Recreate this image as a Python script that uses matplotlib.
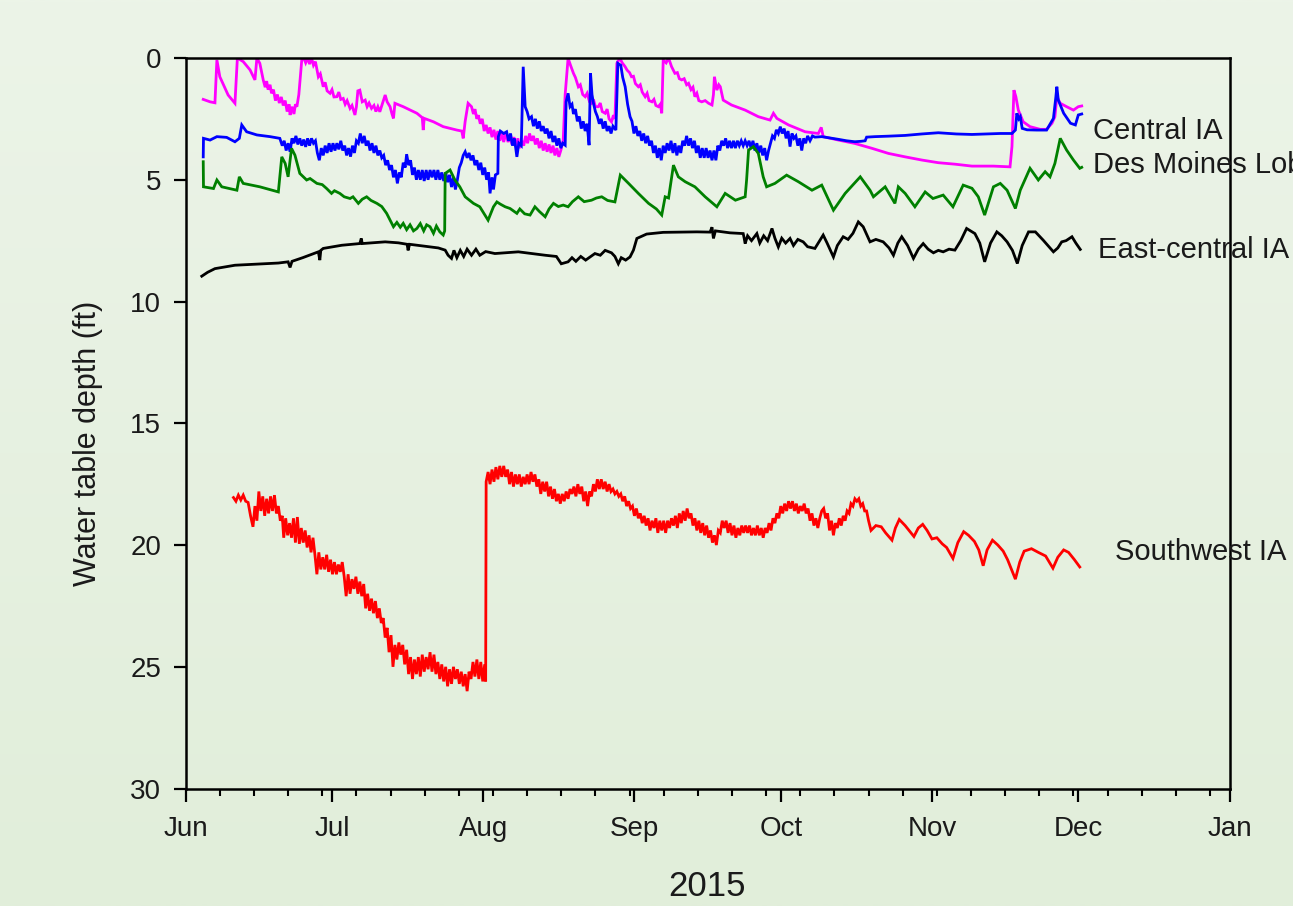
import datetime as dt
import numpy as np
import matplotlib
matplotlib.use("Agg")
import matplotlib.pyplot as plt
import matplotlib.dates as mdates

plt.rcParams['font.family'] = ['Liberation Sans', 'DejaVu Sans']

# Days after 1 June 2015 and water table depth (ft) for each site
START = dt.datetime(2015, 6, 1)

MAGENTA = [
    (3.6, 1.70), (5.0, 1.80), (6.0, 1.84), (6.4, 0.08), (7.0, 0.77), (8.7, 1.52), (10.1, 1.86),
    (10.6, 0.0), (11.8, 0.15), (13.2, 0.49), (14.2, 0.90), (14.6, 0.0), (15.2, 0.22), (15.9, 0.90),
    (16.3, 1.2), (16.6, 0.95), (16.9, 1.3), (17.3, 1.1), (17.6, 1.45), (18.0, 1.3), (18.4, 1.75),
    (18.8, 1.5), (19.2, 1.85), (19.6, 1.6), (20.0, 1.95), (20.4, 1.75), (20.8, 2.2), (21.2, 1.9),
    (21.4, 2.34), (21.8, 2.0), (22.2, 2.3), (22.5, 1.9), (22.8, 2.0), (23.2, 1.5), (23.8, 0.08),
    (24.2, 0.0), (24.6, 0.2), (25.0, 0.0), (25.4, 0.25), (25.8, 0.0), (26.2, 0.3), (26.6, 0.15),
    (27.2, 0.77), (27.6, 0.65), (28.2, 1.18), (28.6, 1.0), (29.0, 1.35), (29.6, 1.45), (30.0, 1.3),
    (30.4, 1.6), (31.0, 1.59), (31.4, 1.4), (31.8, 1.7), (32.3, 1.66), (32.7, 1.9), (33.1, 1.75),
    (33.7, 2.07), (34.1, 1.95), (34.7, 2.34), (35.0, 2.0), (35.3, 1.35), (35.7, 1.32), (36.2, 1.8),
    (36.8, 1.73), (37.2, 2.0), (37.6, 1.85), (38.1, 2.07), (38.6, 1.95), (39.0, 2.2), (39.4, 2.0),
    (39.8, 2.21), (40.3, 1.9), (40.9, 1.52), (41.3, 1.8), (41.9, 2.0), (42.3, 2.3), (42.6, 2.48),
    (42.9, 1.86), (44.6, 2.0), (47.4, 2.27), (48.5, 2.45), (48.7, 2.96), (48.9, 2.48), (50.8, 2.62),
    (52.8, 2.82), (55.6, 2.96), (56.6, 3.0), (56.9, 3.30), (57.3, 2.6), (57.9, 1.86), (58.6, 2.0),
    (59.0, 2.3), (59.3, 2.1), (59.7, 2.5), (60.0, 2.35), (60.4, 2.7), (60.8, 2.5), (61.2, 3.0),
    (61.6, 2.75), (62.0, 3.1), (62.4, 2.85), (62.8, 3.25), (63.2, 2.95), (63.6, 3.35), (64.0, 3.0),
    (64.4, 3.4), (64.8, 3.1), (65.2, 3.45), (65.6, 3.1), (66.1, 3.45), (66.5, 3.2), (66.9, 3.55),
    (67.3, 3.25), (67.7, 3.65), (68.1, 3.3), (68.5, 3.7), (68.9, 3.4), (69.3, 3.6), (69.7, 3.2),
    (70.1, 3.5), (70.5, 3.1), (70.9, 3.4), (71.3, 3.2), (71.7, 3.55), (72.1, 3.3), (72.5, 3.7),
    (72.9, 3.4), (73.3, 3.8), (73.7, 3.5), (74.1, 3.85), (74.5, 3.55), (74.9, 3.9), (75.3, 3.6),
    (75.7, 4.0), (76.1, 3.7), (76.5, 4.06), (76.9, 3.8), (77.4, 3.37), (77.8, 1.5), (78.4, 0.01),
    (78.9, 0.3), (79.5, 0.63), (79.9, 0.8), (80.5, 1.18), (80.9, 1.1), (81.4, 1.5), (81.9, 1.59),
    (82.3, 1.45), (82.8, 1.8), (83.2, 1.86), (83.6, 1.7), (84.0, 2.0), (84.6, 2.0), (85.0, 1.85),
    (85.4, 2.2), (86.0, 2.27), (86.4, 2.1), (86.8, 2.5), (87.3, 2.62), (87.7, 2.35), (88.0, 2.5),
    (88.4, 0.22), (89.0, 0.0), (89.5, 0.2), (90.1, 0.36), (90.5, 0.5), (91.0, 0.6), (91.4, 0.77),
    (91.8, 0.75), (92.2, 1.05), (92.8, 1.18), (93.2, 1.1), (93.6, 1.4), (94.2, 1.59), (94.6, 1.45),
    (95.0, 1.75), (95.6, 1.80), (96.0, 1.7), (96.4, 1.95), (96.9, 2.0), (97.3, 1.9), (97.6, 2.27),
    (97.9, 0.08), (98.5, 0.2), (99.0, 0.0), (99.6, 0.35), (100.3, 0.63), (100.8, 0.6), (101.2, 0.85),
    (101.7, 0.90), (102.2, 0.85), (102.7, 1.1), (103.1, 1.04), (103.6, 1.3), (104.0, 1.2),
    (104.4, 1.59), (104.8, 1.45), (105.2, 1.75), (105.8, 1.80), (106.5, 1.75), (107.2, 1.86),
    (107.9, 1.93), (108.2, 1.5), (108.4, 0.77), (108.9, 1.32), (109.3, 1.1), (109.6, 1.18),
    (110.2, 1.73), (111.9, 1.93), (114.7, 2.14), (117.4, 2.41), (119.8, 2.55), (120.5, 2.27),
    (121.2, 2.48), (123.6, 2.75), (127.0, 3.03), (129.7, 3.10), (130.3, 2.85), (130.7, 3.23),
    (133.8, 3.37), (137.2, 3.51), (140.7, 3.71), (144.1, 3.92), (147.5, 4.06), (150.9, 4.19),
    (154.3, 4.30), (157.7, 4.36), (161.2, 4.44), (165.6, 4.44), (169.0, 4.47), (169.4, 3.64),
    (169.8, 1.32), (170.2, 1.59), (170.7, 2.14), (171.7, 2.62), (173.1, 2.82), (175.2, 2.93),
    (176.5, 2.93), (177.6, 2.68), (178.2, 2.41), (178.6, 1.59), (179.3, 1.86), (180.6, 2.0),
    (182.0, 2.14), (183.0, 2.0), (183.7, 1.97),
]

BLUE = [
    (3.6, 4.06), (3.65, 3.30), (5.0, 3.37), (6.4, 3.23), (8.4, 3.26), (10.1, 3.44), (11.0, 3.3),
    (11.5, 2.75), (12.5, 3.03), (14.6, 3.16), (17.3, 3.23), (19.3, 3.30), (19.8, 3.6), (20.2, 3.4),
    (20.6, 3.8), (21.0, 3.5), (21.4, 3.85), (21.8, 3.3), (22.2, 3.5), (22.6, 3.2), (23.0, 3.55),
    (23.4, 3.3), (23.8, 3.6), (24.2, 3.35), (24.6, 3.65), (25.0, 3.3), (25.4, 3.6), (25.8, 3.3),
    (26.2, 3.5), (26.6, 3.4), (27.0, 3.9), (27.4, 4.2), (27.8, 3.7), (28.2, 4.0), (28.6, 3.6),
    (29.0, 3.9), (29.4, 3.5), (29.8, 3.85), (30.2, 3.5), (30.6, 3.8), (31.0, 3.5), (31.4, 3.75),
    (31.8, 3.4), (32.2, 3.8), (32.6, 3.6), (33.0, 4.0), (33.4, 3.7), (33.8, 4.05), (34.2, 3.6),
    (34.6, 3.9), (35.0, 3.4), (35.4, 3.5), (35.8, 3.1), (36.2, 3.5), (36.6, 3.2), (37.0, 3.6),
    (37.4, 3.4), (37.8, 3.8), (38.2, 3.5), (38.6, 3.9), (39.0, 3.6), (39.4, 4.0), (39.8, 3.8),
    (40.2, 4.1), (40.6, 4.0), (41.0, 4.4), (41.4, 4.2), (41.8, 4.6), (42.2, 4.4), (42.6, 4.9),
    (43.0, 4.6), (43.4, 5.15), (43.8, 4.7), (44.2, 4.9), (44.6, 4.3), (45.0, 4.5), (45.3, 3.95),
    (45.7, 4.4), (46.1, 4.2), (46.5, 4.8), (46.9, 4.5), (47.3, 5.0), (47.7, 4.6), (48.1, 5.0),
    (48.5, 4.6), (48.9, 5.05), (49.3, 4.6), (49.7, 5.0), (50.1, 4.6), (50.5, 4.9), (50.9, 4.6),
    (51.3, 5.0), (51.7, 4.6), (52.1, 5.0), (52.5, 4.7), (52.9, 5.05), (53.3, 4.7), (53.7, 5.1),
    (54.1, 4.8), (54.5, 5.3), (54.9, 4.9), (55.3, 5.4), (55.7, 5.0), (56.1, 4.5), (56.5, 4.3),
    (56.9, 4.0), (57.3, 3.85), (57.7, 4.1), (58.1, 3.9), (58.5, 4.2), (58.9, 4.0), (59.3, 4.4),
    (59.7, 4.2), (60.1, 4.6), (60.5, 4.3), (60.9, 4.8), (61.3, 4.5), (61.7, 5.0), (62.1, 4.7),
    (62.4, 5.56), (62.8, 4.9), (63.1, 5.4), (63.5, 4.8), (64.0, 4.74), (64.1, 3.23), (64.5, 3.0),
    (65.2, 3.1), (65.8, 3.03), (66.2, 3.4), (66.6, 3.1), (67.0, 3.6), (67.4, 3.3), (67.9, 4.06),
    (68.3, 3.5), (68.8, 3.6), (69.2, 0.36), (69.6, 2.0), (70.0, 2.2), (70.4, 2.5), (70.9, 2.41),
    (71.3, 2.8), (71.7, 2.5), (72.1, 2.9), (72.5, 2.6), (72.9, 3.0), (73.3, 2.8), (73.7, 3.1),
    (74.1, 2.9), (74.5, 3.3), (74.9, 3.0), (75.3, 3.45), (75.7, 3.2), (76.1, 3.6), (76.5, 3.3),
    (76.9, 3.7), (77.3, 3.5), (77.8, 3.58), (78.0, 1.8), (78.4, 1.45), (78.8, 2.0), (79.2, 1.9),
    (79.5, 2.3), (79.9, 2.1), (80.3, 2.6), (80.7, 2.4), (81.1, 2.9), (81.5, 2.6), (81.9, 3.0),
    (82.3, 2.7), (82.7, 3.58), (83.0, 0.63), (83.3, 1.5), (83.6, 1.86), (84.0, 2.2), (84.4, 2.4),
    (84.8, 2.7), (85.2, 2.5), (85.6, 2.9), (86.0, 2.6), (86.4, 3.0), (86.8, 2.8), (87.2, 3.1),
    (87.6, 2.8), (88.2, 2.96), (88.6, 0.22), (89.2, 0.3), (89.6, 0.8), (90.1, 1.18), (90.6, 1.9),
    (91.1, 2.41), (91.5, 2.6), (91.9, 3.1), (92.3, 2.8), (92.7, 3.2), (93.1, 3.0), (93.5, 3.4),
    (93.9, 3.1), (94.3, 3.5), (94.7, 3.2), (95.1, 3.6), (95.5, 3.4), (95.9, 3.9), (96.3, 3.6),
    (96.7, 4.1), (97.1, 3.7), (97.5, 4.2), (97.9, 3.6), (98.3, 3.9), (98.7, 3.5), (99.1, 3.8),
    (99.5, 3.4), (99.9, 3.9), (100.3, 3.5), (100.7, 4.0), (101.1, 3.6), (101.5, 3.9), (101.9, 3.4),
    (102.3, 3.6), (102.7, 3.2), (103.1, 3.6), (103.5, 3.3), (103.9, 3.7), (104.3, 3.4), (104.7, 3.9),
    (105.1, 3.6), (105.5, 4.1), (105.9, 3.7), (106.3, 4.1), (106.7, 3.7), (107.1, 4.1), (107.5, 3.8),
    (107.9, 4.2), (108.3, 3.8), (108.7, 4.2), (109.1, 3.6), (109.5, 3.8), (109.9, 3.4), (110.3, 3.6),
    (110.7, 3.3), (111.1, 3.7), (111.5, 3.4), (111.9, 3.7), (112.3, 3.4), (112.7, 3.7), (113.1, 3.4),
    (113.5, 3.6), (113.9, 3.4), (114.3, 3.6), (114.7, 3.4), (115.1, 3.6), (115.5, 3.4), (115.9, 3.7),
    (116.3, 3.4), (116.7, 3.8), (117.1, 3.5), (117.5, 3.9), (117.9, 3.6), (118.3, 4.0), (118.7, 3.7),
    (119.1, 4.2), (119.5, 3.8), (119.9, 3.5), (120.3, 3.2), (120.7, 3.3), (121.1, 2.95), (121.5, 3.1),
    (121.9, 2.82), (122.3, 3.1), (122.7, 2.9), (123.1, 3.3), (123.5, 3.0), (123.9, 3.64), (124.3, 3.1),
    (124.7, 3.3), (125.1, 3.2), (125.5, 3.6), (125.9, 3.3), (126.3, 3.8), (126.7, 3.3), (127.1, 3.5),
    (127.5, 3.2), (128.0, 3.4), (128.5, 3.2), (129.0, 3.25), (130.4, 3.23), (132.0, 3.28),
    (133.8, 3.34), (135.5, 3.4), (137.2, 3.44), (138.5, 3.42), (139.3, 3.40), (139.6, 3.25),
    (141.3, 3.23), (144.1, 3.21), (147.5, 3.18), (150.9, 3.12), (154.3, 3.07), (158.0, 3.12),
    (161.2, 3.14), (164.2, 3.12), (167.0, 3.1), (169.4, 3.10), (170.1, 2.96), (170.4, 2.27),
    (170.8, 2.5), (171.1, 2.41), (171.5, 2.89), (172.5, 2.95), (174.5, 2.96), (176.5, 2.96),
    (177.9, 2.48), (178.4, 1.6), (178.6, 1.18), (178.9, 1.73), (180.0, 2.27), (181.4, 2.68),
    (182.4, 2.75), (183.0, 2.34), (183.7, 2.30),
]

GREEN = [
    (3.6, 4.26), (3.65, 5.29), (5.7, 5.36), (6.4, 5.01), (7.4, 5.29), (10.5, 5.43), (11.0, 4.88),
    (11.8, 5.15), (15.2, 5.29), (19.0, 5.50), (19.7, 4.06), (20.4, 4.33), (21.0, 4.88), (21.7, 3.71),
    (22.4, 3.99), (23.4, 4.74), (24.8, 5.01), (25.5, 4.95), (26.9, 5.15), (28.0, 5.2), (28.9, 5.36),
    (29.9, 5.56), (30.5, 5.45), (31.6, 5.56), (32.5, 5.7), (33.7, 5.77), (34.3, 5.7), (35.4, 5.97),
    (36.2, 5.8), (37.1, 5.70), (38.0, 5.85), (39.2, 5.97), (40.2, 6.1), (41.2, 6.38), (42.0, 6.7),
    (42.6, 6.93), (43.3, 6.75), (44.0, 6.95), (44.6, 6.79), (45.3, 7.05), (46.0, 6.85), (46.7, 7.1),
    (47.4, 7.00), (48.1, 6.8), (48.8, 7.1), (49.4, 6.85), (50.1, 6.93), (50.8, 7.2), (51.4, 6.9),
    (52.1, 7.14), (52.8, 7.27), (53.1, 7.1), (53.2, 4.74), (54.2, 4.60), (55.2, 5.01), (56.2, 5.29),
    (57.3, 5.70), (59.0, 5.97), (60.3, 6.11), (62.0, 6.66), (63.1, 6.11), (63.8, 5.91), (64.5, 6.0),
    (65.5, 6.11), (66.5, 6.18), (67.9, 6.38), (68.5, 6.2), (69.5, 6.4), (70.6, 6.45), (71.6, 6.11),
    (72.5, 6.3), (73.7, 6.52), (74.5, 6.2), (75.4, 5.97), (76.4, 6.1), (77.4, 6.04), (78.4, 6.11),
    (79.3, 5.9), (80.5, 5.70), (81.7, 5.9), (83.2, 5.84), (84.2, 5.75), (85.3, 5.70), (86.5, 5.85),
    (88.0, 5.91), (89.1, 4.81), (90.8, 5.15), (92.8, 5.56), (94.9, 5.97), (96.5, 6.2), (97.6, 6.45),
    (98.3, 5.70), (99.0, 5.75), (100.0, 4.40), (101.0, 4.88), (102.4, 5.08), (104.4, 5.29),
    (106.5, 5.70), (108.9, 6.11), (110.6, 5.56), (112.7, 5.84), (114.7, 5.70), (115.0, 5.0),
    (115.4, 3.78), (116.4, 3.64), (117.4, 3.92), (118.4, 4.88), (119.1, 5.29), (120.8, 5.15),
    (123.2, 4.81), (125.6, 5.08), (128.4, 5.43), (130.4, 5.22), (132.8, 6.25), (135.2, 5.56),
    (138.3, 4.88), (140.3, 5.43), (141.0, 5.70), (143.4, 5.29), (145.4, 5.97), (146.1, 5.29),
    (147.5, 5.56), (149.5, 6.11), (151.6, 5.50), (153.2, 5.77), (155.3, 5.63), (157.3, 6.11),
    (159.4, 5.22), (161.2, 5.35), (162.5, 5.7), (163.8, 6.45), (165.6, 5.29), (167.0, 5.15),
    (168.4, 5.43), (170.1, 6.18), (171.1, 5.43), (173.1, 4.53), (174.8, 5.01), (176.2, 4.67),
    (177.2, 4.88), (178.2, 4.33), (179.3, 3.30), (180.6, 3.78), (182.0, 4.19), (183.3, 4.53),
    (183.7, 4.49),
]

BLACK = [
    (3.3, 8.96), (4.5, 8.8), (6.0, 8.65), (8.0, 8.58), (10.1, 8.51), (13.0, 8.48), (16.9, 8.44),
    (19.0, 8.42), (21.0, 8.37), (21.4, 8.6), (21.8, 8.35), (24.0, 8.2), (27.2, 7.96), (27.5, 8.30),
    (27.7, 7.9), (28.2, 7.82), (32.0, 7.69), (35.7, 7.62), (36.0, 7.41), (36.2, 7.62), (40.9, 7.55),
    (43.6, 7.59), (45.4, 7.65), (45.6, 7.9), (45.9, 7.65), (51.8, 7.80), (53.2, 7.89), (53.8, 8.1),
    (54.5, 8.23), (55.0, 7.9), (55.6, 8.2), (56.3, 7.9), (57.0, 8.15), (57.7, 7.85), (58.6, 8.1),
    (59.5, 7.85), (60.3, 8.1), (61.5, 7.95), (63.4, 8.03), (68.2, 7.96), (73.7, 8.10), (76.0, 8.15),
    (77.0, 8.45), (78.4, 8.37), (79.2, 8.2), (80.0, 8.35), (81.0, 8.15), (82.0, 8.3), (83.9, 8.03),
    (85.0, 8.1), (86.0, 7.9), (87.3, 8.0), (88.0, 8.15), (88.7, 8.45), (89.3, 8.2), (90.2, 8.3),
    (91.1, 8.17), (91.8, 7.89), (92.5, 7.41), (94.5, 7.23), (97.9, 7.16), (101.0, 7.15),
    (104.8, 7.14), (107.5, 7.15), (107.9, 6.95), (108.2, 7.41), (108.6, 7.1), (111.6, 7.18),
    (114.3, 7.21), (114.5, 7.4), (114.7, 7.62), (115.2, 7.3), (116.0, 7.5), (117.1, 7.21),
    (117.7, 7.6), (118.5, 7.3), (119.3, 7.5), (120.2, 7.00), (120.8, 7.4), (121.5, 7.76),
    (122.2, 7.4), (123.0, 7.6), (123.9, 7.41), (124.6, 7.7), (125.5, 7.45), (126.6, 7.55),
    (127.5, 7.75), (129.0, 7.82), (130.7, 7.27), (131.5, 7.6), (132.8, 8.17), (133.6, 7.7),
    (134.8, 7.34), (135.8, 7.45), (136.8, 7.2), (137.9, 6.73), (138.9, 6.93), (139.5, 7.2),
    (140.3, 7.55), (141.5, 7.45), (143.0, 7.55), (144.2, 7.8), (145.1, 8.10), (146.0, 7.6),
    (146.8, 7.34), (148.0, 7.7), (149.2, 8.23), (150.2, 7.85), (151.2, 7.62), (152.2, 7.85),
    (153.3, 8.00), (154.3, 7.9), (155.3, 7.96), (156.5, 7.85), (157.7, 7.89), (158.9, 7.5),
    (160.1, 7.00), (161.8, 7.21), (162.8, 7.6), (163.8, 8.37), (165.0, 7.6), (166.3, 7.14),
    (167.3, 7.3), (168.4, 7.55), (169.5, 7.9), (170.5, 8.44), (171.5, 7.7), (172.8, 7.14),
    (174.2, 7.14), (175.8, 7.48), (177.9, 7.96), (178.8, 7.8), (179.6, 7.55), (180.5, 7.5),
    (181.7, 7.34), (182.5, 7.6), (183.4, 7.86),
]

RED = [
    (9.8, 18.05), (10.3, 18.2), (10.8, 17.95), (11.3, 18.15), (11.8, 17.95), (12.3, 18.2),
    (12.8, 18.25), (13.3, 18.8), (13.8, 19.25), (14.2, 18.4), (14.6, 19.0), (15.0, 17.8),
    (15.4, 18.6), (15.8, 18.0), (16.2, 18.8), (16.6, 18.1), (17.0, 18.7), (17.4, 18.0),
    (17.8, 18.6), (18.2, 17.95), (18.6, 18.7), (19.0, 18.4), (19.4, 19.0), (19.8, 18.8),
    (20.1, 19.7), (20.5, 18.9), (20.9, 19.6), (21.3, 19.1), (21.7, 19.7), (22.1, 18.9),
    (22.5, 19.9), (22.9, 18.85), (23.3, 19.95), (23.7, 19.3), (24.1, 19.9), (24.5, 19.4),
    (24.9, 20.1), (25.3, 19.6), (25.7, 20.3), (26.1, 19.7), (26.5, 20.4), (26.9, 21.2),
    (27.3, 20.3), (27.7, 21.0), (28.1, 20.5), (28.5, 21.0), (28.9, 20.4), (29.3, 21.1),
    (29.7, 20.6), (30.1, 21.2), (30.5, 20.7), (30.9, 21.2), (31.3, 20.8), (31.7, 21.1),
    (32.1, 20.7), (32.5, 21.3), (32.9, 22.1), (33.3, 21.2), (33.7, 22.0), (34.1, 21.4),
    (34.5, 21.8), (34.9, 21.3), (35.3, 22.0), (35.7, 21.5), (36.1, 22.1), (36.5, 21.6),
    (36.9, 22.6), (37.3, 22.0), (37.7, 22.7), (38.1, 22.2), (38.5, 22.8), (38.9, 22.3),
    (39.3, 23.0), (39.7, 22.6), (40.1, 23.2), (40.5, 23.0), (40.9, 23.8), (41.3, 23.4),
    (41.7, 24.4), (42.1, 23.7), (42.5, 25.0), (42.9, 24.1), (43.3, 24.7), (43.7, 24.0),
    (44.1, 24.5), (44.5, 24.1), (44.9, 24.9), (45.3, 24.3), (45.7, 25.3), (46.1, 24.6),
    (46.5, 25.5), (46.9, 24.7), (47.3, 25.3), (47.7, 24.6), (48.1, 25.4), (48.5, 24.5),
    (48.9, 25.2), (49.3, 24.6), (49.7, 25.1), (50.1, 24.4), (50.5, 25.2), (50.9, 24.5),
    (51.3, 25.3), (51.7, 24.8), (52.1, 25.5), (52.5, 24.9), (52.9, 25.6), (53.3, 25.0),
    (53.7, 25.8), (54.1, 25.1), (54.5, 25.7), (54.9, 25.0), (55.3, 25.5), (55.7, 25.1),
    (56.1, 25.7), (56.5, 25.2), (56.9, 25.8), (57.3, 25.3), (57.7, 26.0), (58.1, 25.2),
    (58.5, 25.5), (58.9, 24.8), (59.3, 25.4), (59.7, 24.7), (60.1, 25.5), (60.5, 24.8),
    (60.9, 25.6), (61.3, 24.9), (61.5, 25.6), (61.6, 17.4), (62.0, 17.0), (62.4, 17.5),
    (62.8, 16.9), (63.2, 17.4), (63.6, 16.8), (64.0, 17.3), (64.4, 16.75), (64.8, 17.2),
    (65.2, 16.75), (65.6, 17.2), (66.0, 16.9), (66.4, 17.5), (66.8, 17.0), (67.2, 17.6),
    (67.6, 17.1), (68.0, 17.5), (68.4, 17.1), (68.8, 17.6), (69.2, 17.2), (69.6, 17.5),
    (70.0, 17.1), (70.4, 17.5), (70.8, 17.0), (71.2, 17.4), (71.6, 17.1), (72.0, 17.6),
    (72.4, 17.3), (72.8, 17.9), (73.2, 17.4), (73.6, 17.8), (74.0, 17.4), (74.4, 18.0),
    (74.8, 17.6), (75.2, 18.1), (75.6, 17.7), (76.0, 18.2), (76.4, 17.9), (76.8, 18.3),
    (77.2, 17.9), (77.6, 18.2), (78.0, 17.8), (78.4, 18.1), (78.8, 17.7), (79.2, 17.9),
    (79.6, 17.6), (80.0, 18.0), (80.4, 17.5), (80.8, 17.9), (81.2, 17.6), (81.6, 18.2),
    (82.0, 17.8), (82.4, 18.4), (82.8, 17.8), (83.2, 18.0), (83.6, 17.5), (84.0, 17.8),
    (84.4, 17.3), (84.8, 17.7), (85.2, 17.3), (85.6, 17.7), (86.0, 17.4), (86.4, 17.8),
    (86.8, 17.5), (87.2, 17.8), (87.6, 17.7), (88.0, 17.9), (88.4, 17.8), (88.8, 18.0),
    (89.2, 17.9), (89.6, 18.2), (90.0, 18.0), (90.4, 18.4), (90.8, 18.2), (91.2, 18.5),
    (91.6, 18.4), (92.0, 18.8), (92.4, 18.5), (92.8, 18.9), (93.2, 18.7), (93.6, 19.1),
    (94.0, 18.8), (94.4, 19.2), (94.8, 18.9), (95.2, 19.4), (95.6, 19.0), (96.0, 19.3),
    (96.4, 18.9), (96.8, 19.5), (97.2, 19.0), (97.6, 19.4), (98.0, 19.0), (98.4, 19.5),
    (98.8, 19.0), (99.2, 19.3), (99.6, 18.9), (100.0, 19.2), (100.4, 18.8), (100.8, 19.3),
    (101.2, 18.7), (101.6, 19.1), (102.0, 18.6), (102.4, 19.0), (102.8, 18.5), (103.2, 18.9),
    (103.6, 18.7), (104.0, 19.2), (104.4, 18.9), (104.8, 19.4), (105.2, 19.0), (105.6, 19.5),
    (106.0, 19.1), (106.4, 19.6), (106.8, 19.2), (107.2, 19.7), (107.6, 19.4), (108.0, 19.9),
    (108.4, 19.6), (108.8, 20.0), (109.2, 19.4), (109.6, 19.5), (110.0, 19.0), (110.4, 19.3),
    (110.8, 19.0), (111.2, 19.5), (111.6, 19.1), (112.0, 19.6), (112.4, 19.2), (112.8, 19.7),
    (113.2, 19.3), (113.6, 19.6), (114.0, 19.2), (114.4, 19.5), (114.8, 19.2), (115.2, 19.5),
    (115.6, 19.2), (116.0, 19.6), (116.4, 19.3), (116.8, 19.6), (117.2, 19.2), (117.6, 19.6),
    (118.0, 19.3), (118.4, 19.7), (118.8, 19.3), (119.2, 19.5), (119.6, 19.1), (120.0, 19.4),
    (120.4, 18.9), (120.8, 19.1), (121.2, 18.7), (121.6, 18.9), (122.0, 18.4), (122.4, 18.7),
    (122.8, 18.3), (123.2, 18.6), (123.6, 18.2), (124.0, 18.5), (124.4, 18.2), (124.8, 18.6),
    (125.2, 18.3), (125.6, 18.7), (126.0, 18.4), (126.4, 18.6), (126.8, 18.3), (127.2, 18.7),
    (127.6, 18.5), (128.0, 19.0), (128.4, 18.7), (128.8, 19.2), (129.2, 18.9), (129.6, 19.3),
    (130.0, 18.9), (130.4, 18.6), (130.8, 18.5), (131.2, 18.9), (131.6, 18.7), (132.0, 19.4),
    (132.4, 19.0), (132.8, 19.6), (133.2, 19.1), (133.6, 19.3), (134.0, 18.9), (134.4, 19.2),
    (134.8, 18.8), (135.2, 19.0), (135.6, 18.6), (136.0, 18.7), (136.4, 18.3), (136.8, 18.4),
    (137.2, 18.1), (137.6, 18.2), (138.0, 18.1), (138.4, 18.4), (138.8, 18.3), (139.2, 18.6),
    (139.6, 18.6), (140.0, 19.0), (140.5, 19.4), (141.5, 19.2), (142.6, 19.25), (143.5, 19.5),
    (144.8, 19.8), (145.5, 19.3), (146.3, 18.95), (147.5, 19.2), (149.3, 19.65), (150.2, 19.3),
    (151.1, 19.15), (152.0, 19.4), (153.0, 19.75), (154.0, 19.7), (155.1, 19.95), (156.0, 20.1),
    (157.3, 20.55), (158.3, 19.9), (159.5, 19.45), (160.5, 19.6), (161.7, 19.85), (162.6, 20.2),
    (163.5, 20.85), (164.3, 20.2), (165.4, 19.8), (166.5, 20.0), (167.6, 20.25), (168.5, 20.6),
    (169.3, 21.0), (170.1, 21.4), (171.0, 20.7), (171.9, 20.25), (173.4, 20.15), (174.8, 20.3),
    (176.3, 20.45), (177.8, 20.95), (178.8, 20.5), (180.0, 20.2), (181.0, 20.3), (182.2, 20.6),
    (183.3, 20.9),
]

SERIES = [
    (MAGENTA, '#ff00ff'),
    (BLUE, '#0000ff'),
    (GREEN, '#008000'),
    (BLACK, '#000000'),
    (RED, '#ff0000'),
]

# Site labels: (text, day, depth)
SITE_LABELS = [
    ('Central IA', 186.0, 3.0),
    ('Des Moines Lobe', 186.0, 4.4),
    ('East-central IA', 187.0, 7.9),
    ('Southwest IA', 190.5, 20.3),
]

Y_TICKS = [0, 5, 10, 15, 20, 25, 30]


def to_dates(days):
    return [START + dt.timedelta(days=float(d)) for d in days]


fig = plt.figure(figsize=(12.93, 9.06), dpi=100)

# soft green backdrop, slightly lighter toward the top
bg = fig.add_axes([0, 0, 1, 1], zorder=0)
top = np.array([236, 244, 232]) / 255.0
bot = np.array([225, 238, 218]) / 255.0
t = np.linspace(0, 1, 256)[:, None]
grad = (top[None, :] * (1 - t) + bot[None, :] * t)[:, None, :]
bg.imshow(grad, aspect='auto', extent=[0, 1, 0, 1], interpolation='bilinear')
bg.set_axis_off()

ax = fig.add_axes([0.1436, 0.1296, 0.8073, 0.8064], zorder=1)
ax.set_facecolor('none')

for data, color in SERIES:
    days = [p[0] for p in data]
    depth = [p[1] for p in data]
    ax.plot(to_dates(days), depth, color=color, lw=2.0, solid_joinstyle='miter')

ax.set_xlim(dt.datetime(2015, 6, 1), dt.datetime(2016, 1, 1))
ax.set_ylim(30, 0)
ax.set_yticks(Y_TICKS)

ax.xaxis.set_major_locator(mdates.MonthLocator())
ax.xaxis.set_major_formatter(mdates.DateFormatter('%b'))
ax.xaxis.set_minor_locator(mdates.WeekdayLocator(byweekday=mdates.MO))

for side in ['left', 'right', 'top', 'bottom']:
    ax.spines[side].set_linewidth(1.8)
    ax.spines[side].set_color('black')

ax.tick_params(axis='x', which='major', direction='out', length=9, width=1.6,
               labelsize=20, pad=11, top=False)
ax.tick_params(axis='x', which='minor', direction='out', length=5, width=1.5, top=False)
ax.tick_params(axis='y', which='major', direction='out', length=8.5, width=1.6,
               labelsize=20, pad=9, right=False)
for lbl in ax.get_xticklabels() + ax.get_yticklabels():
    lbl.set_color('#1a1a1a')

for text, d, depth in SITE_LABELS:
    ax.text(START + dt.timedelta(days=d), depth, text, fontsize=21, color='#1a1a1a',
            ha='left', va='center', clip_on=False, zorder=5)

fig.text(88 / 1293, 1 - 443 / 906, 'Water table depth (ft)', rotation=90,
         fontsize=22, color='#1a1a1a', ha='center', va='center')
fig.text(707 / 1293, 1 - 887 / 906, '2015', fontsize=25, color='#1a1a1a',
         ha='center', va='center')

fig.savefig('out.png', dpi=100)
